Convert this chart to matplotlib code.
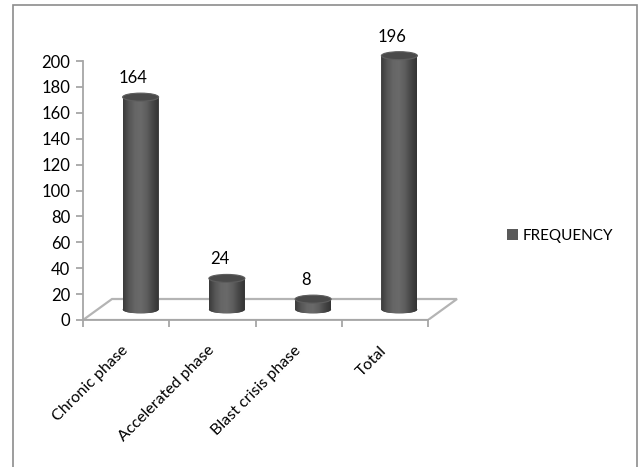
import numpy as np
import matplotlib
matplotlib.use("Agg")
import matplotlib.pyplot as plt
from matplotlib.patches import Ellipse, Polygon, Rectangle, PathPatch, Patch
from matplotlib.path import Path
from matplotlib.colors import LinearSegmentedColormap
from matplotlib.transforms import ScaledTranslation

categories = ["Chronic phase", "Accelerated phase", "Blast crisis phase", "Total"]
values = [164, 24, 8, 196]
series_name = "FREQUENCY"
yticks = [0, 20, 40, 60, 80, 100, 120, 140, 160, 180, 200]

plt.rcParams['font.family'] = ['Lato', 'DejaVu Sans']

W, H = 642, 467
fig = plt.figure(figsize=(W / 100, H / 100), dpi=100)

# outer border
fig.add_artist(Rectangle((13 / W, -0.05), (637 - 13) / W, 1.05 - 5 / H,
                         transform=fig.transFigure, fill=False,
                         edgecolor="#8c8c8c", linewidth=1.2))

# axes geometry (pixels)
x_left, x_zero_px = 83, 320
px_per_cat = 86.25
px_per_val = 1.295
xlim = (-0.5, 3.9)
ylim = (0, 230)
ax = fig.add_axes([x_left / W, (H - x_zero_px) / H,
                   (xlim[1] - xlim[0]) * px_per_cat / W,
                   (ylim[1] - ylim[0]) * px_per_val / H])
ax.set_xlim(*xlim)
ax.set_ylim(*ylim)
ax.patch.set_alpha(0)

dx = 29 / px_per_cat
dy = 21 / px_per_val
w = 36 / px_per_cat
eh = 8 / px_per_val

# floor
floor = Polygon([(-0.5, 0), (3.5, 0), (3.5 + dx, dy), (-0.5 + dx, dy)],
                closed=True, facecolor="white", edgecolor="#b4b4b4",
                linewidth=1.6, zorder=1)
ax.add_patch(floor)

for s in ["top", "right"]:
    ax.spines[s].set_visible(False)
ax.spines["left"].set_bounds(0, 200)
ax.spines["bottom"].set_bounds(-0.5, 3.5)
for s in ["left", "bottom"]:
    ax.spines[s].set_color("#a6a6a6")
    ax.spines[s].set_linewidth(1.3)
    ax.spines[s].set_zorder(2)

ax.set_yticks(yticks)
ax.set_yticklabels([str(t) for t in yticks], fontsize=12)
ax.set_xticks(np.arange(-0.5, len(categories), 1.0))
ax.set_xticklabels([])
ax.set_xticks(np.arange(len(categories)), minor=True)
ax.set_xticklabels(categories, minor=True, rotation=45, ha="right", va="top",
                   rotation_mode="anchor", fontsize=11.5)
ax.tick_params(axis="x", which="minor", length=0, pad=14)
ax.tick_params(axis="x", which="major", length=5, color="#a6a6a6", width=1.3, direction="out")
ax.tick_params(axis="y", length=5, color="#a6a6a6", width=1.3, pad=4)
off = ScaledTranslation(-5 / 100, -4 / 100, fig.dpi_scale_trans)
for lab in ax.get_xticklabels(minor=True):
    lab.set_transform(lab.get_transform() + off)

cmap = LinearSegmentedColormap.from_list(
    "cyl", ["#3a3a3a", "#555555", "#666666", "#6a6a6a", "#5e5e5e", "#464646", "#333333"])
grad = np.linspace(0, 1, 200).reshape(1, -1)

base = dy / 2
for i, v in enumerate(values):
    xc = i + dx / 2
    top = base + v
    t = np.linspace(np.pi, 2 * np.pi, 60)
    arc = np.column_stack([xc + w / 2 * np.cos(t), base + eh / 2 * np.sin(t)])
    verts = np.vstack([[xc - w / 2, top], arc, [xc + w / 2, top], [xc - w / 2, top]])
    body = Path(verts, closed=True)
    ax.bar([xc], [v], width=w, bottom=base, color="#5a5a5a", zorder=3, linewidth=0)
    ax.add_patch(Ellipse((xc, base), w, eh, facecolor="#5a5a5a", edgecolor="none", zorder=3))
    im = ax.imshow(grad, cmap=cmap, aspect="auto",
                   extent=(xc - w / 2, xc + w / 2, base - eh / 2, top),
                   zorder=4, interpolation="bilinear")
    clip = PathPatch(body, transform=ax.transData, facecolor="none", edgecolor="none")
    ax.add_patch(clip)
    im.set_clip_path(clip)
    ax.add_patch(Ellipse((xc, top), w, eh, facecolor="#4a4a4a", edgecolor="#5e5e5e",
                         linewidth=0.8, zorder=5))
    ax.annotate(str(v), (i + dx * 0.25, top + eh / 2), xytext=(0, 5),
                textcoords="offset points", ha="center", va="bottom",
                fontsize=12, zorder=6)

ax.set_xlim(*xlim)
ax.set_ylim(*ylim)

# legend
fig.legend(handles=[Patch(facecolor="#5a5a5a", edgecolor="none", label=series_name)],
           loc="center left", bbox_to_anchor=(493 / W, 1 - 236 / H), frameon=False,
           fontsize=11, handlelength=0.75, handleheight=0.75, handletextpad=0.3)

fig.savefig("out.png", dpi=100)
